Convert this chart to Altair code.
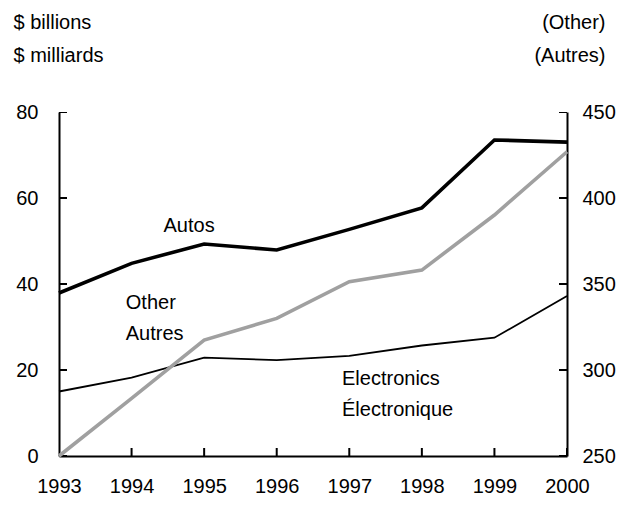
import altair as alt
import pandas as pd

# ---- data ----
years = [1993, 1994, 1995, 1996, 1997, 1998, 1999, 2000]
autos = [37.9, 44.8, 49.3, 47.9, 52.7, 57.7, 73.5, 73.0]
electronics = [15.0, 18.2, 22.9, 22.3, 23.3, 25.7, 27.5, 37.2]
other = [250.0, 283.5, 317.4, 330.0, 351.3, 358.1, 390.1, 426.9]

label_text = ["Autos", "Other", "Autres", "Electronics", "Électronique"]
label_year = [1994.44, 1993.92, 1993.92, 1996.9, 1996.9]
label_value = [52.2, 34.1, 27.0, 16.5, 9.3]

left_ticks = [0, 20, 40, 60, 80]
right_ticks = [250, 300, 350, 400, 450]
left_title = ["$ billions", "$ milliards"]
right_title = ["(Other)", "(Autres)"]

FONT = "Liberation Sans"
FS = 20

df = pd.DataFrame({"year": years, "Autos": autos,
                   "Electronics": electronics, "Other": other})
labels = pd.DataFrame({"text": label_text, "year": label_year, "value": label_value})
xt = pd.DataFrame({"year": years})
lt = pd.DataFrame({"v": left_ticks})
rt = pd.DataFrame({"v": right_ticks})

common_axis = dict(
    domainColor="black", domainWidth=2, ticks=False,
    labelFont=FONT, labelFontSize=FS, labelColor="black",
    grid=False, titleFont=FONT, titleFontSize=FS, titleFontWeight="normal",
    titleColor="black",
)

x_axis = alt.Axis(values=years, format="d", title=None, labelPadding=20,
                  labelFlush=False, **common_axis)
x_scale = alt.Scale(domain=[1993, 2000], nice=False, zero=False)

left_axis = alt.Axis(values=left_ticks, orient="left", title=left_title,
                     titleAngle=0, titleAlign="left", titleBaseline="alphabetic",
                     titleX=-46, titleY=-84, titleLineHeight=33,
                     labelPadding=21, **common_axis)
left_scale = alt.Scale(domain=[0, 80], nice=False, zero=False)

right_axis = alt.Axis(values=right_ticks, orient="right", title=right_title,
                      titleAngle=0, titleAlign="right", titleBaseline="alphabetic",
                      titleX=38, titleY=-84, titleLineHeight=33,
                      labelPadding=15, **common_axis)
right_scale = alt.Scale(domain=[250, 450], nice=False, zero=False)

X = alt.X("year:Q", scale=x_scale, axis=x_axis)
base = alt.Chart(df)

autos_line = base.mark_line(color="black", strokeWidth=3.6, strokeJoin="miter").encode(
    x=X, y=alt.Y("Autos:Q", scale=left_scale, axis=left_axis))
elec_line = base.mark_line(color="black", strokeWidth=1.8, strokeJoin="miter").encode(
    x=X, y=alt.Y("Electronics:Q", scale=left_scale, axis=left_axis))
text = alt.Chart(labels).mark_text(
    font=FONT, fontSize=FS, color="black", align="left", baseline="alphabetic"
).encode(
    x=alt.X("year:Q", scale=x_scale, axis=x_axis),
    y=alt.Y("value:Q", scale=left_scale, axis=left_axis),
    text="text:N",
)
# inward tick marks (half of each tick is clipped by the plot area)
x_ticks = alt.Chart(xt).mark_tick(orient="vertical", size=16, thickness=2,
                                  color="black", clip=True, opacity=1).encode(
    x=X, y=alt.YDatum(0, scale=left_scale, axis=left_axis))
l_ticks = alt.Chart(lt).mark_tick(orient="horizontal", size=16, thickness=2,
                                  color="black", clip=True, opacity=1).encode(
    y=alt.Y("v:Q", scale=left_scale, axis=left_axis),
    x=alt.XDatum(1993, scale=x_scale, axis=x_axis))
left = alt.layer(x_ticks, l_ticks, autos_line, elec_line, text)

other_line = base.mark_line(color="#a0a0a0", strokeWidth=3.6, strokeJoin="miter").encode(
    x=X, y=alt.Y("Other:Q", scale=right_scale, axis=right_axis))
r_ticks = alt.Chart(rt).mark_tick(orient="horizontal", size=16, thickness=2,
                                  color="black", clip=True, opacity=1).encode(
    y=alt.Y("v:Q", scale=right_scale, axis=right_axis),
    x=alt.XDatum(2000, scale=x_scale, axis=x_axis))
right = alt.layer(r_ticks, other_line)

chart = (
    alt.layer(left, right)
    .resolve_scale(y="independent")
    .properties(
        width=508, height=344,
        autosize=alt.AutoSizeParams(type="none"),
        padding={"left": 51, "top": 104, "right": 51, "bottom": 41},
        background="white",
    )
    .configure_view(strokeWidth=0)
)

chart.save("out.html", embed_options={"renderer": "svg", "actions": False})
